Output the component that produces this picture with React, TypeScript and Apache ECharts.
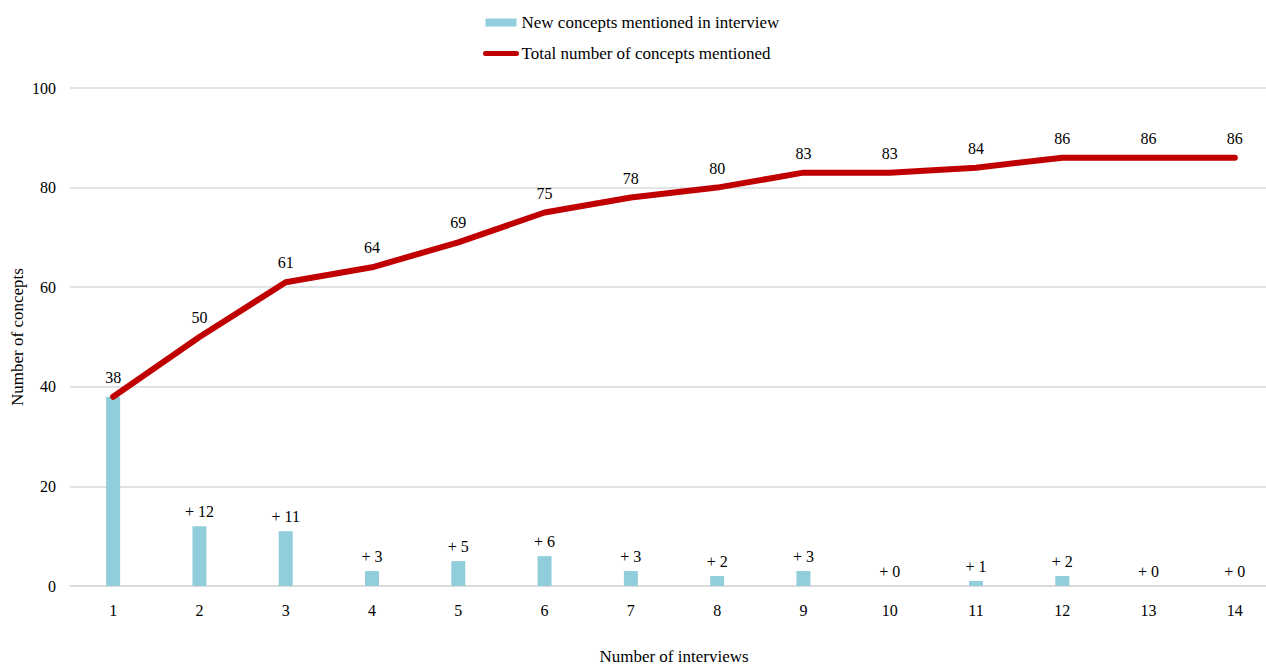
import React, { useEffect, useRef } from "react";
import * as echarts from "echarts";

const categories = ["1", "2", "3", "4", "5", "6", "7", "8", "9", "10", "11", "12", "13", "14"];
const newConcepts = [38, 12, 11, 3, 5, 6, 3, 2, 3, 0, 1, 2, 0, 0];
const totalConcepts = [38, 50, 61, 64, 69, 75, 78, 80, 83, 83, 84, 86, 86, 86];
const barName = "New concepts mentioned in interview";
const lineName = "Total number of concepts mentioned";

const FONT = "Liberation Serif, Times New Roman, serif";
const FS = 16;
const FS_TITLE = 17;

export default function App() {
  const ref = useRef<HTMLDivElement>(null);
  useEffect(() => {
    if (!ref.current) return;
    const chart = echarts.init(ref.current, null, { renderer: "svg" });
    chart.setOption({
      animation: false,
      textStyle: { fontFamily: FONT, color: "#000" },
      legend: {
        orient: "vertical",
        left: 483,
        top: 14,
        padding: 0,
        itemWidth: 31,
        itemHeight: 8,
        itemGap: 14,
        textStyle: { fontFamily: FONT, fontSize: FS_TITLE, color: "#000" },
        data: [
          { name: barName, icon: "rect" },
          {
            name: lineName,
            itemStyle: { opacity: 0 },
            lineStyle: { width: 5, cap: "round", color: "#C00000" },
          },
        ],
      },
      grid: { left: 70, right: -12, top: 88, bottom: 79, outerBoundsMode: "none", containLabel: false },
      xAxis: {
        type: "category",
        data: categories,
        boundaryGap: true,
        name: "Number of interviews",
        nameLocation: "middle",
        nameGap: 62,
        nameMoveOverlap: false,
        nameTextStyle: { fontFamily: FONT, fontSize: FS_TITLE, color: "#000" },
        axisLine: { show: true, lineStyle: { color: "#D9D9D9", width: 1.5 } },
        axisTick: { show: false },
        axisLabel: { fontFamily: FONT, fontSize: FS, color: "#000", margin: 16 },
      },
      yAxis: {
        type: "value",
        min: 0,
        max: 100,
        interval: 20,
        name: "Number of concepts",
        nameLocation: "middle",
        nameGap: 44,
        nameMoveOverlap: false,
        nameTextStyle: { fontFamily: FONT, fontSize: FS_TITLE, color: "#000" },
        axisLine: { show: false },
        axisTick: { show: false },
        axisLabel: { fontFamily: FONT, fontSize: FS, color: "#000", margin: 14 },
        splitLine: { lineStyle: { color: "#D9D9D9", width: 1.5 } },
      },
      series: [
        {
          name: barName,
          type: "bar",
          data: newConcepts,
          barWidth: 14,
          itemStyle: { color: "#92CDDC" },
          label: {
            show: true,
            position: "top",
            distance: 7,
            fontFamily: FONT,
            fontSize: FS,
            color: "#000",
            formatter: (p: any) => (p.dataIndex === 0 ? "" : "+ " + p.value),
          },
        },
        {
          name: lineName,
          type: "line",
          data: totalConcepts,
          symbol: "circle",
          symbolSize: 1,
          showSymbol: true,
          itemStyle: { color: "#C00000" },
          lineStyle: { color: "#C00000", width: 6, cap: "round", join: "round" },
          label: {
            show: true,
            position: "top",
            distance: 11,
            fontFamily: FONT,
            fontSize: FS,
            color: "#000",
          },
          z: 3,
        },
      ],
    });
    return () => chart.dispose();
  }, []);
  return (
    <div
      ref={ref}
      style={{ position: "fixed", left: 0, top: 0, width: 1266, height: 665, background: "#fff" }}
    />
  );
}
